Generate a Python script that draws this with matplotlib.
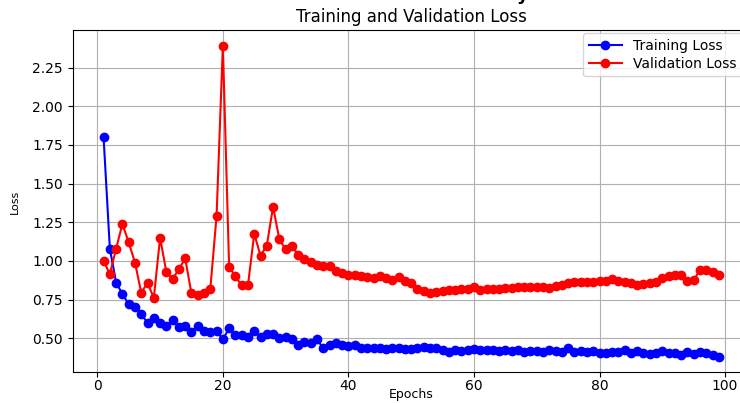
import numpy as np
import matplotlib
matplotlib.use('Agg')
from matplotlib import pyplot as plt

# values, epochs 1..99
train_loss = [1.80, 1.08, 0.86, 0.787, 0.72, 0.705, 0.66, 0.597, 0.634, 0.597,
              0.58, 0.62, 0.575, 0.58, 0.543, 0.58, 0.55, 0.543, 0.547, 0.494,
              0.565, 0.52, 0.52, 0.51, 0.55, 0.506, 0.528, 0.528, 0.50, 0.506,
              0.496, 0.457, 0.478, 0.468, 0.494, 0.435, 0.457, 0.472, 0.457, 0.453,
              0.457, 0.44, 0.435, 0.437, 0.44, 0.43, 0.435, 0.44, 0.43, 0.43,
              0.437, 0.445, 0.435, 0.435, 0.424, 0.414, 0.428, 0.416, 0.424, 0.43,
              0.424, 0.428, 0.428, 0.42, 0.428, 0.42, 0.424, 0.414, 0.42, 0.42,
              0.414, 0.424, 0.42, 0.414, 0.44, 0.41, 0.42, 0.414, 0.418, 0.403,
              0.403, 0.41, 0.41, 0.424, 0.407, 0.418, 0.407, 0.40, 0.403, 0.418,
              0.403, 0.403, 0.392, 0.414, 0.396, 0.414, 0.403, 0.392, 0.38]
val_loss = [1.00, 0.916, 1.08, 1.24, 1.12, 0.99, 0.795, 0.86, 0.76, 1.15,
            0.93, 0.885, 0.946, 1.017, 0.79, 0.78, 0.79, 0.82, 1.29, 2.39,
            0.963, 0.90, 0.843, 0.843, 1.175, 1.035, 1.10, 1.35, 1.14, 1.075,
            1.097, 1.04, 1.013, 0.996, 0.974, 0.968, 0.968, 0.937, 0.92, 0.91,
            0.91, 0.905, 0.898, 0.892, 0.903, 0.888, 0.88, 0.894, 0.872, 0.855,
            0.818, 0.808, 0.795, 0.80, 0.808, 0.812, 0.812, 0.817, 0.82, 0.83,
            0.812, 0.817, 0.818, 0.82, 0.825, 0.827, 0.83, 0.834, 0.834, 0.83,
            0.834, 0.827, 0.84, 0.848, 0.855, 0.862, 0.862, 0.866, 0.866, 0.869,
            0.87, 0.881, 0.872, 0.866, 0.86, 0.845, 0.85, 0.855, 0.866, 0.888,
            0.903, 0.91, 0.91, 0.872, 0.877, 0.94, 0.94, 0.93, 0.91]
epochs = np.arange(1, len(train_loss) + 1)

fig = plt.figure(figsize=(7.4, 4.03), dpi=100)
ax = fig.add_axes([0.0984, 0.0759, 0.9145, 0.8487])

ax.plot(epochs, train_loss, 'bo-', label='Training Loss', markersize=6, linewidth=1.5)
ax.plot(epochs, val_loss, 'ro-', label='Validation Loss', markersize=6, linewidth=1.5)
ax.set_xlim(-3.9, 103.9)
ax.set_ylim(0.28, 2.49)

ax.set_title('Training and Validation Loss', fontsize=12)
ax.set_xlabel('Epochs', fontsize=9, labelpad=-3.5)
ax.set_ylabel('Loss', fontsize=8, labelpad=9)
ax.tick_params(labelsize=10)
ax.tick_params(axis='x', pad=1.5)
ax.grid(True)
ax.legend(loc='upper right', bbox_to_anchor=(0.993, 1.0), fontsize=10,
          handlelength=2.4, labelspacing=0.3, borderaxespad=0.2)

# cut-off glyph at the very top of the picture
fig.text(517 / 740, 1.0, 'y', fontsize=13, fontweight='bold', color='black',
         va='baseline')

fig.savefig('out.png', dpi=100)
